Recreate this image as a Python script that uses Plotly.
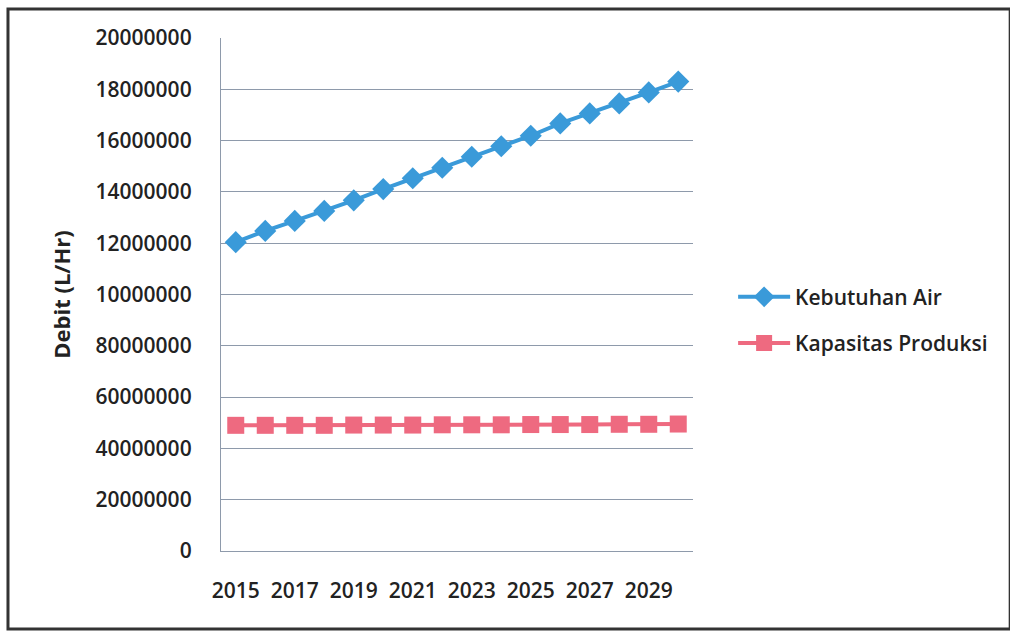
import plotly.graph_objects as go

years = [str(y) for y in range(2015, 2031)]
kebutuhan_air = [120.4e6, 124.8e6, 128.7e6, 132.6e6, 136.7e6, 141.1e6, 145.3e6, 149.4e6,
                 153.7e6, 157.8e6, 161.9e6, 166.7e6, 170.6e6, 174.5e6, 178.8e6, 183.0e6]
kapasitas_produksi = [49.0e6, 49.0e6, 49.0e6, 49.0e6, 49.1e6, 49.1e6, 49.1e6, 49.2e6,
                      49.2e6, 49.2e6, 49.3e6, 49.3e6, 49.3e6, 49.4e6, 49.4e6, 49.5e6]
x_tick_labels = ["2015", "2017", "2019", "2021", "2023", "2025", "2027", "2029"]
y_tick_vals = [0, 20e6, 40e6, 60e6, 80e6, 100e6, 120e6, 140e6, 160e6, 180e6, 200e6]
y_tick_text = ["0", "20000000", "40000000", "60000000", "80000000", "10000000",
               "12000000", "14000000", "16000000", "18000000", "20000000"]

FONT = "Open Sans"
TXT = "#222222"
GRID = "#8e9aab"
fig = go.Figure()
fig.add_trace(go.Scatter(
    x=years, y=kebutuhan_air, name="Kebutuhan Air", mode="lines+markers",
    line=dict(color="#3a9ad9", width=4),
    marker=dict(symbol="diamond", size=17, color="#3a9ad9"),
    legendgroup="a"))
fig.add_trace(go.Scatter(
    x=years, y=kapasitas_produksi, name="Kapasitas Produksi", mode="lines+markers",
    line=dict(color="#ee6a80", width=4),
    marker=dict(symbol="square", size=17, color="#ee6a80"),
    legendgroup="b"))

fig.update_layout(
    width=1010, height=631,
    margin=dict(l=221, r=317, t=38, b=80),
    paper_bgcolor="white", plot_bgcolor="white",
    font=dict(family=FONT, size=21, color=TXT),
    showlegend=True,
    legend=dict(x=1.085, y=0.45, xanchor="left", yanchor="middle",
                font=dict(family=FONT, size=21, color=TXT, weight=600),
                tracegroupgap=16, traceorder="grouped", itemwidth=52,
                bgcolor="rgba(0,0,0,0)"),
    xaxis=dict(type="category", range=[-0.5, 15.5], tickmode="array",
               tickvals=x_tick_labels, ticktext=x_tick_labels, showgrid=False,
               showline=True, linecolor=GRID, linewidth=1.3,
               zeroline=False, ticks="",
               tickfont=dict(family=FONT, size=21, color=TXT, weight=600),
               ticklabelstandoff=21),
    yaxis=dict(range=[0, 200e6], tickmode="array", tickvals=y_tick_vals,
               ticktext=y_tick_text, showgrid=True, gridcolor=GRID, gridwidth=1.3,
               showline=True, linecolor=GRID, linewidth=1.3, zeroline=False,
               ticks="", ticklabelstandoff=24,
               tickfont=dict(family=FONT, size=21, color=TXT, weight=600),
               title=dict(text="Debit (L/Hr)", standoff=18,
                          font=dict(family=FONT, size=22, color=TXT, weight=700))),
)
fig.add_shape(type="rect", xref="paper", yref="paper",
              x0=-0.4513, x1=1.672, y0=-0.152, y1=1.0565,
              line=dict(color="#333333", width=3), layer="below")
fig.write_html("out.html")
